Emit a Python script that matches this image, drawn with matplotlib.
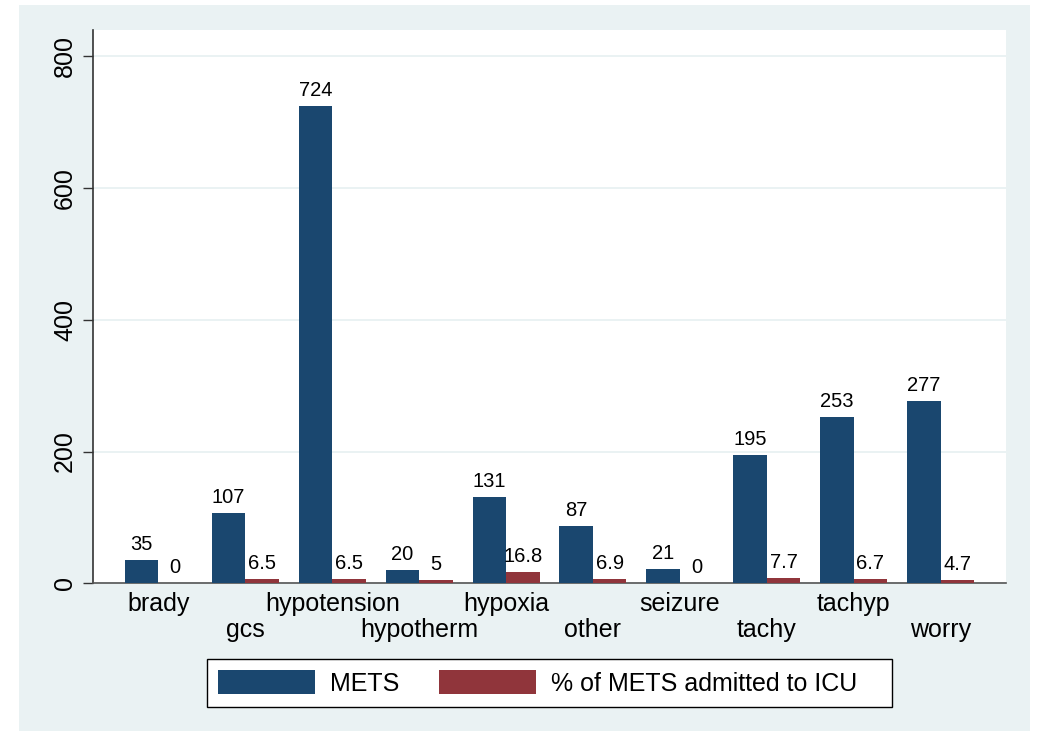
import numpy as np
import matplotlib
matplotlib.use('Agg')
import matplotlib.pyplot as plt
from matplotlib.patches import Rectangle

plt.rcParams['font.family'] = ['Liberation Sans', 'DejaVu Sans']

categories = ['brady', 'gcs', 'hypotension', 'hypotherm', 'hypoxia',
              'other', 'seizure', 'tachy', 'tachyp', 'worry']
mets = [35, 107, 724, 20, 131, 87, 21, 195, 253, 277]
icu_pct = [0, 6.5, 6.5, 5, 16.8, 6.9, 0, 7.7, 6.7, 4.7]
series_names = ['METS', '% of METS admitted to ICU']
y_ticks = [0, 200, 400, 600, 800]

BLUE = '#1A476F'
RED = '#90353B'
BG = '#EAF2F3'

W, H = 1038, 734
fig = plt.figure(figsize=(W / 100, H / 100), dpi=100, facecolor='white')

# stata-like outer panel
fig.patches.append(Rectangle((19 / W, 1 - 731 / H), (1030 - 19) / W, (731 - 5) / H,
                             transform=fig.transFigure, facecolor=BG,
                             edgecolor='none', zorder=-10))

ax = fig.add_axes([93.3 / W, 1 - 583.3 / H, (1005.7 - 93.3) / W, (583.3 - 30) / H])
ax.set_facecolor('white')

x = np.arange(len(categories))
bw = 0.385
b1 = ax.bar(x - bw / 2, mets, bw, color=BLUE, zorder=3, label=series_names[0])
b2 = ax.bar(x + bw / 2, icu_pct, bw, color=RED, zorder=3, label=series_names[1])

for bars, vals in [(b1, mets), (b2, icu_pct)]:
    for rect, v in zip(bars, vals):
        ax.annotate(f'{v:g}', (rect.get_x() + rect.get_width() / 2, rect.get_height()),
                    xytext=(0, 7.2), textcoords='offset points',
                    ha='center', va='baseline', fontsize=14.5, color='black')

ax.set_xlim(-0.75, len(categories) - 0.25)
ax.set_ylim(0, 840)
ax.set_yticks(y_ticks)
ax.set_yticklabels([str(t) for t in y_ticks], rotation=90, va='center', fontsize=18)
ax.yaxis.grid(True, color=BG, linewidth=1.4, zorder=0)
ax.set_axisbelow(True)

ax.set_xticks(x)
ax.set_xticklabels(categories, fontsize=18)
ax.tick_params(axis='x', length=0)
for i, tick in enumerate(ax.xaxis.get_major_ticks()):
    tick.set_pad(6.5 if i % 2 == 0 else 25.2)
ax.tick_params(axis='y', length=7.2, width=1, color='#333333', pad=4.5)

for s in ['top', 'right']:
    ax.spines[s].set_visible(False)
ax.spines['left'].set_color('#333333')
ax.spines['left'].set_linewidth(1.2)
ax.spines['bottom'].set_color('#555555')
ax.spines['bottom'].set_linewidth(1.2)

# legend box drawn separately so the padding matches
fig.patches.append(Rectangle((206.7 / W, 1 - 706.7 / H), (891.7 - 206.7) / W, (706.7 - 659.3) / H,
                             transform=fig.transFigure, facecolor='white',
                             edgecolor='black', linewidth=1, zorder=1))
fig.legend(handles=[b1, b2], loc='center left',
           bbox_to_anchor=(217.7 / W, 1 - 683 / H), ncol=2, frameon=False,
           fontsize=18, handlelength=3.88, handleheight=1.04,
           handletextpad=0.6, columnspacing=1.6, borderpad=0, borderaxespad=0)

plt.savefig('out.png', dpi=100, facecolor='white')
